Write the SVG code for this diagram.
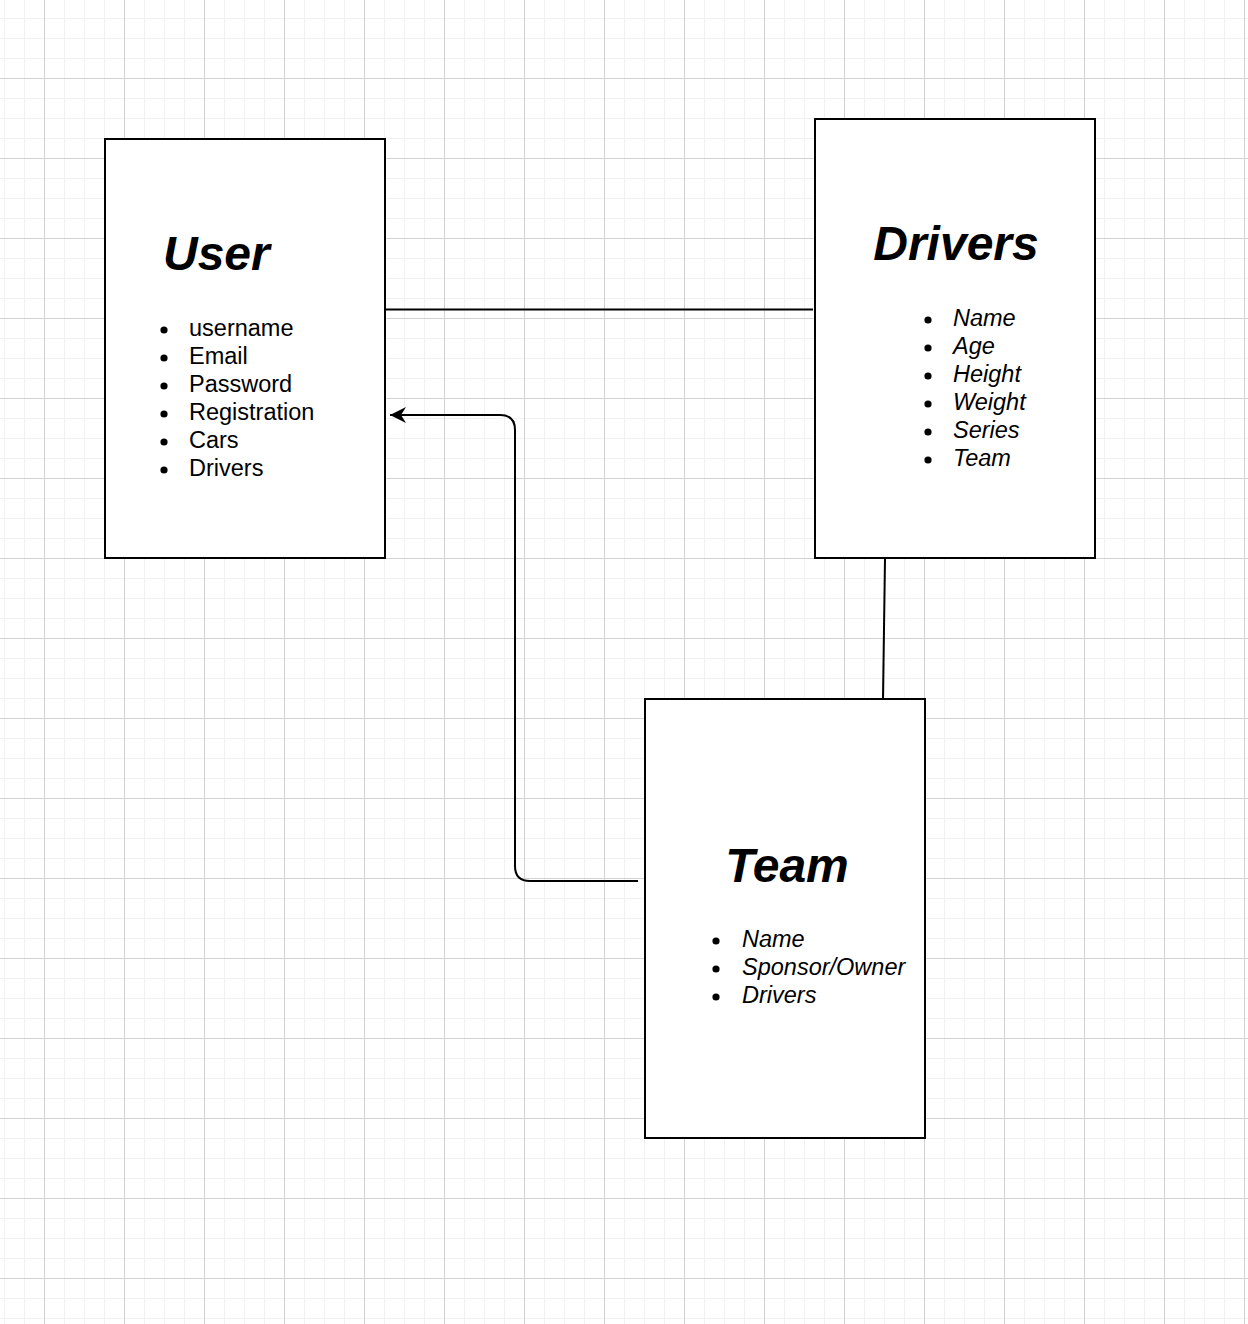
<svg xmlns="http://www.w3.org/2000/svg" width="1248" height="1324" viewBox="0 0 1248 1324">
<style>
.box{fill:#fff;stroke:#000;stroke-width:2}
.title{font-family:"Liberation Sans",Arial,sans-serif;font-size:48px;font-weight:bold;font-style:italic;fill:#000}
.item{font-family:"Liberation Sans",Arial,sans-serif;font-size:23.5px;fill:#000}
.it{font-style:italic}
.conn{fill:none;stroke:#000;stroke-width:2}
</style>
<defs>
<pattern id="grid" x="44" y="78" width="80" height="80" patternUnits="userSpaceOnUse">
<path d="M20.5 0V80M40.5 0V80M60.5 0V80M0 20.5H80M0 40.5H80M0 60.5H80" stroke="#f1f1f1" stroke-width="1"/>
<path d="M0.5 0V80M0 0.5H80" stroke="#d2d2d2" stroke-width="1"/>
</pattern>
<marker id="arr" viewBox="0 0 18 18" refX="17" refY="9" markerWidth="18" markerHeight="18" markerUnits="userSpaceOnUse" orient="auto">
<path d="M1 1 L17 9 L1 17 L6 9 Z" fill="#000"/>
</marker>
</defs>
<rect width="1248" height="1324" fill="#fff"/>
<rect width="1248" height="1324" fill="url(#grid)"/>

<g id="connectors">
<line class="conn" x1="385" y1="309.5" x2="813" y2="309.5"/>
<line class="conn" x1="885" y1="559" x2="883" y2="698"/>
<path class="conn" d="M638 881 H530 Q515 881 515 866 V430 Q515 415 500 415 H390" marker-end="url(#arr)"/>
</g>

<g id="user">
<rect class="box" x="105" y="139" width="280" height="419"/>
<text class="title" x="163" y="270">User</text>
<g fill="#000">
<circle cx="164" cy="330" r="3.6"/><circle cx="164" cy="358" r="3.6"/><circle cx="164" cy="386" r="3.6"/>
<circle cx="164" cy="414" r="3.6"/><circle cx="164" cy="442" r="3.6"/><circle cx="164" cy="470" r="3.6"/>
</g>
<text class="item" x="189" y="336">username</text>
<text class="item" x="189" y="364">Email</text>
<text class="item" x="189" y="392">Password</text>
<text class="item" x="189" y="420">Registration</text>
<text class="item" x="189" y="448">Cars</text>
<text class="item" x="189" y="476">Drivers</text>
</g>

<g id="drivers">
<rect class="box" x="815" y="119" width="280" height="439"/>
<text class="title" x="956" y="260" text-anchor="middle">Drivers</text>
<g fill="#000">
<circle cx="928" cy="320" r="3.6"/><circle cx="928" cy="348" r="3.6"/><circle cx="928" cy="376" r="3.6"/>
<circle cx="928" cy="404" r="3.6"/><circle cx="928" cy="432" r="3.6"/><circle cx="928" cy="460" r="3.6"/>
</g>
<text class="item it" x="953" y="326">Name</text>
<text class="item it" x="953" y="354">Age</text>
<text class="item it" x="953" y="382">Height</text>
<text class="item it" x="953" y="410">Weight</text>
<text class="item it" x="953" y="438">Series</text>
<text class="item it" x="953" y="466">Team</text>
</g>

<g id="team">
<rect class="box" x="645" y="699" width="280" height="439"/>
<text class="title" x="787" y="882" text-anchor="middle">Team</text>
<g fill="#000">
<circle cx="716" cy="941" r="3.6"/><circle cx="716" cy="969" r="3.6"/><circle cx="716" cy="997" r="3.6"/>
</g>
<text class="item it" x="742" y="947">Name</text>
<text class="item it" x="742" y="975">Sponsor/Owner</text>
<text class="item it" x="742" y="1003">Drivers</text>
</g>
</svg>
